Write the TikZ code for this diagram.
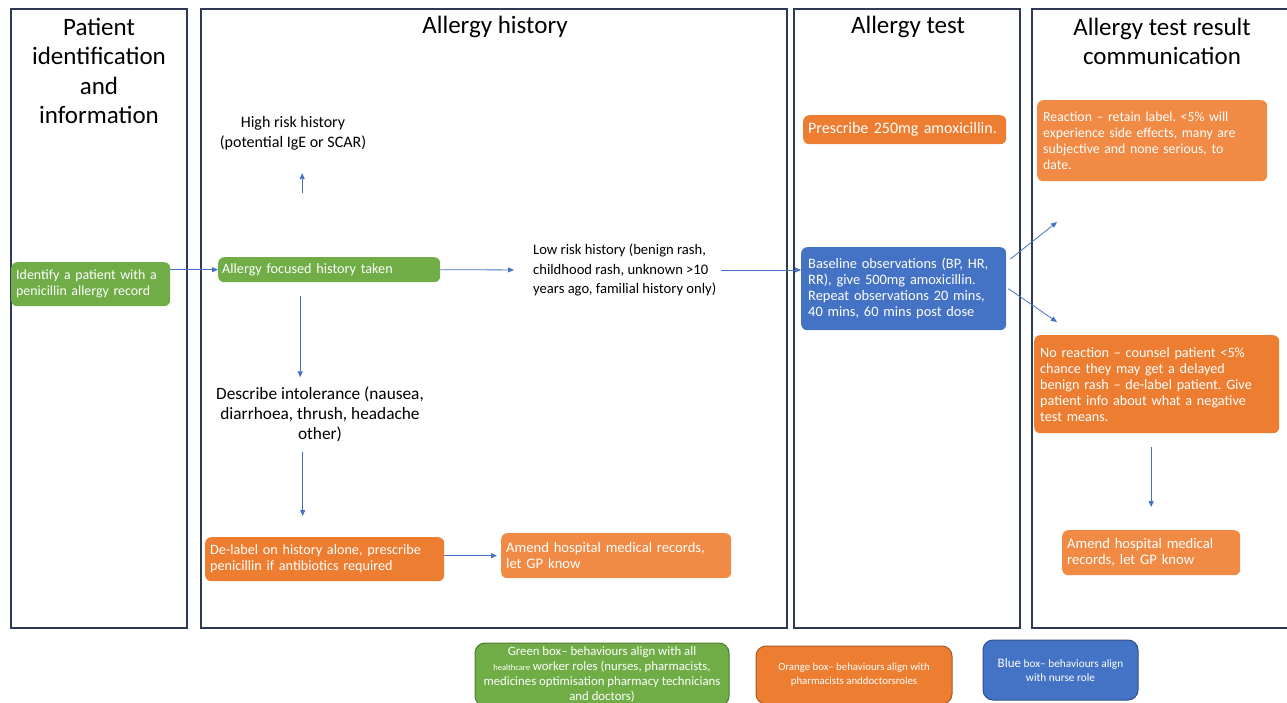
\documentclass[tikz,border=0pt]{standalone}
\usepackage{fontspec}
\setmainfont{Carlito}
\frenchspacing
\usetikzlibrary{arrows.meta}
\definecolor{boxgreen}{HTML}{70AD47}
\definecolor{boxorange}{HTML}{ED7D31}
\definecolor{boxlight}{HTML}{F08A45}
\definecolor{boxblue}{HTML}{4472C4}
\definecolor{framecol}{HTML}{2F3A56}
\begin{document}
\begin{tikzpicture}[
    x=1pt, y=-1pt,
    panel/.style={draw=framecol, line width=1.4pt},
    heading/.style={align=center, inner sep=0pt, font=\fontsize{25}{29.5}\selectfont},
    note/.style={inner sep=0pt, font=\fontsize{16}{20}\selectfont},
    box/.style={rounded corners=6pt, text=white, align=left, inner xsep=5pt, inner ysep=0pt, anchor=north west, font=\fontsize{14.2}{16}\selectfont},
    greenbox/.style={box, fill=boxgreen},
    orangebox/.style={box, fill=boxorange},
    lightbox/.style={box, fill=boxlight},
    bluebox/.style={box, fill=boxblue},
    legend/.style={rounded corners=10pt, text=white, align=center, line width=1pt, inner sep=0pt},
    flow/.style={draw=boxblue, line width=0.8pt, -{Triangle[length=6pt, width=5pt]}}
]
\useasboundingbox (0,0) rectangle (1287,703);
\draw[panel] (11,9) rectangle (187,628);
\draw[panel] (201,9) rectangle (787,628);
\draw[panel] (794,9) rectangle (1020,628);
\draw[panel] (1288,9) -| (1032,628) -- (1288,628);

\node[heading] (h1) at (99,71) {Patient\\identification\\and\\information};
\node[heading] (h2) at (495,27) {Allergy history};
\node[heading] (h3) at (908,27) {Allergy test};
\node[heading] (h4) at (1162,41.5) {Allergy test result\\communication};

\node[greenbox, text width=149pt, minimum height=44pt, font=\fontsize{13.9}{16}\selectfont] (ident) at (11,262) {Identify a patient with a\\penicillin allergy record};
\node[greenbox, text width=214pt, minimum height=25pt, inner xsep=4pt] (focus) at (218,257) {Allergy focused history taken};
\node[note, align=center] (highrisk) at (293,133) {High risk history\\(potential IgE or SCAR)};
\node[note, align=left, anchor=west, font=\fontsize{14.6}{19.5}\selectfont] (lowrisk) at (533,270) {Low risk history (benign rash,\\childhood rash, unknown >10\\years ago, familial history only)};
\node[note, align=center, font=\fontsize{17.3}{20}\selectfont] (intol) at (320,414) {Describe intolerance (nausea,\\diarrhoea, thrush, headache\\other)};
\node[orangebox, text width=229pt, minimum height=44pt] (delabel) at (205,537) {De-label on history alone, prescribe\\penicillin if antibiotics required};
\node[lightbox, text width=220pt, minimum height=45pt, font=\fontsize{14.6}{16}\selectfont] (amend1) at (501,533) {Amend hospital medical records,\\let GP know};
\node[orangebox, text width=193pt, minimum height=29pt, font=\fontsize{16}{18}\selectfont] (prescribe) at (803,115) {Prescribe 250mg amoxicillin.};
\node[bluebox, text width=191pt, minimum height=83pt, inner xsep=7pt, font=\fontsize{14.4}{16}\selectfont] (obs) at (801,247) {Baseline observations (BP, HR,\\RR), give 500mg amoxicillin.\\Repeat observations 20 mins,\\40 mins, 60 mins post dose};
\node[lightbox, text width=218pt, minimum height=81pt, inner xsep=6pt, font=\fontsize{13.8}{16}\selectfont] (react) at (1037,100) {Reaction – retain label. <5\% will\\experience side effects, many are\\subjective and none serious, to\\date.};
\node[orangebox, text width=233pt, minimum height=98pt, inner xsep=6pt] (noreact) at (1034,335) {No reaction – counsel patient <5\%\\chance they may get a delayed\\benign rash – de-label patient. Give\\patient info about what a negative\\test means.};
\node[lightbox, text width=168pt, minimum height=45pt, font=\fontsize{14.6}{16}\selectfont] (amend2) at (1062,530) {Amend hospital medical\\records, let GP know};

\node[legend, fill=boxgreen, draw=boxgreen!70!black, minimum width=254pt, minimum height=63pt, font=\fontsize{12.8}{15}\selectfont] (leggreen) at (602,674.5) {Green box– behaviours align with all\\{\fontsize{8.5}{15}\selectfont healthcare} worker roles (nurses, pharmacists,\\medicines optimisation pharmacy technicians\\and doctors)};
\node[legend, fill=boxorange, draw=boxorange!70!black, minimum width=196pt, minimum height=58pt, font=\fontsize{10.8}{14}\selectfont] (legorange) at (854,675) {Orange box– behaviours align with\\pharmacists anddoctorsroles};
\node[legend, fill=boxblue, draw=boxblue!70!black, minimum width=155pt, minimum height=60pt, font=\fontsize{11.3}{14}\selectfont] (legblue) at (1060.5,670) {{\fontsize{13}{14}\selectfont Blue} box– behaviours align\\with nurse role};

\draw[flow] (ident.east |- focus.west) -- (focus.west);
\draw[flow, shorten <=64pt, shorten >=23pt] ([xshift=-27pt]focus.north) -- ([xshift=-27pt]focus.north |- highrisk.south);
\draw[flow, shorten <=14pt, shorten >=9pt] ([xshift=-29pt]focus.south) -- ([xshift=-29pt]focus.south |- intol.north);
\draw[flow, shorten <=10pt, shorten >=21pt] ([xshift=-22pt]delabel.north |- intol.south) -- ([xshift=-22pt]delabel.north);
\draw[flow, shorten >=4pt] (delabel.east |- amend1.west) -- (amend1.west);
\draw[flow, shorten >=19pt] (focus.east) -- (lowrisk.west);
\draw[flow, shorten <=5pt] (lowrisk.east) -- (lowrisk.east -| obs.west);
\coordinate (yes) at (1057,222);
\coordinate (no) at (1057,322);
\draw[flow] ([xshift=4pt, yshift=-12pt]obs.north east) -- (yes);
\draw[flow] ([xshift=2pt]obs.east) -- (no);
\draw[flow, shorten <=14pt, shorten >=23pt] (noreact.south -| amend2.north) -- (amend2.north);
\end{tikzpicture}
\end{document}
